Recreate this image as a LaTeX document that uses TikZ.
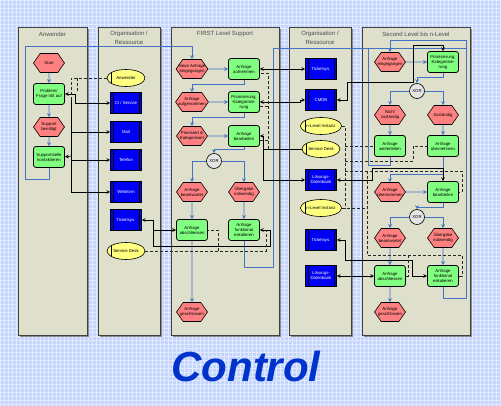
\documentclass[tikz,border=0pt]{standalone}
\usepackage{fontspec}
\setmainfont{Liberation Sans}
\usetikzlibrary{shapes.geometric,shapes.symbols,arrows}

\definecolor{bgblue}{RGB}{196,212,250}
\definecolor{gridblue}{RGB}{226,234,255}
\definecolor{lanecol}{RGB}{222,224,204}
\definecolor{evtred}{RGB}{255,128,128}
\definecolor{fktgreen}{RGB}{128,255,128}
\definecolor{sysblue}{RGB}{0,0,245}
\definecolor{orgyellow}{RGB}{255,255,128}
\definecolor{flowblue}{RGB}{68,114,196}
\definecolor{titleblue}{RGB}{0,51,204}

\tikzset{
  lane/.style={draw=black!75, line width=1pt, fill=lanecol},
  lanetitle/.style={text=black!70, align=center, font=\fontsize{6}{8.5}\selectfont},
  evt/.style={signal, signal to=east and west, signal pointer angle=110, draw, fill=evtred,
    line width=0.6pt, minimum width=31pt, minimum height=19pt, inner xsep=-4pt, inner ysep=1pt,
    align=center, font=\fontsize{4.3}{5}\selectfont},
  fkt/.style={rectangle, rounded corners=2.5pt, draw, fill=fktgreen, line width=0.8pt,
    minimum width=31pt, minimum height=21pt, inner sep=0.5pt, align=center,
    font=\fontsize{4.3}{5}\selectfont},
  sys/.style={rectangle, draw, fill=sysblue, text=white, line width=0.6pt,
    minimum width=31pt, minimum height=21pt, inner sep=0.5pt, align=center,
    font=\fontsize{4.3}{5}\selectfont,
    path picture={\draw[black, line width=0.6pt]
      ([xshift=2.5pt]path picture bounding box.south west) -- ([xshift=2.5pt]path picture bounding box.north west)
      ([xshift=-2.5pt]path picture bounding box.south east) -- ([xshift=-2.5pt]path picture bounding box.north east);}},
  org/.style={ellipse, draw, fill=orgyellow, line width=0.6pt, minimum width=38pt,
    minimum height=17pt, inner sep=0pt, align=center, font=\fontsize{4.3}{5}\selectfont,
    path picture={\draw ([xshift=4.5pt]path picture bounding box.south west) -- ([xshift=4.5pt]path picture bounding box.north west);}},
  xorc/.style={circle, draw, fill=black!10, line width=0.6pt, minimum size=15pt, inner sep=0pt,
    font=\fontsize{4.3}{5}\selectfont},
  flow/.style={->, draw=flowblue, line width=0.8pt},
  info/.style={draw=black, line width=0.7pt},
  resp/.style={draw=black!85, line width=0.9pt, dash pattern=on 3pt off 2pt}
}

\begin{document}
\begin{tikzpicture}[x=1pt,y=-1pt,>=stealth]
\useasboundingbox (0,0) rectangle (501,406);
\fill[bgblue] (0,0) rectangle (501,406);
\draw[gridblue,line width=0.7pt,step=4pt] (0pt,0pt) grid (501pt,-406pt);

% lanes
\foreach \xa/\xb in {18/87,98/160,171/279,289/351,362/470}
{
    \fill[black!45] (\xa+1.5,29.5) rectangle (\xb+1.5,336.5);
    \draw[lane] (\xa,28) rectangle (\xb,335);
}
\node[lanetitle] (t1) at (52.5,34) {Anwender};
\node[lanetitle] (t2) at (129,38) {Organisation /\\Ressource};
\node[lanetitle] (t3) at (225,34) {FIRST Level Support};
\node[lanetitle] (t4) at (320,38) {Organisation /\\Ressource};
\node[lanetitle] (t5) at (416,34) {Second Level bis n-Level};

% Anwender
\node[evt] (start) at (49,63) {Start};
\node[fkt] (problem) at (49,94) {Problem/\\Frage tritt auf};
\node[evt] (supbenoetigt) at (49,127) {Support\\benötigt};
\node[fkt] (supkontakt) at (49,157) {Supportstelle\\kontaktieren};

% Organisation / Ressource
\node[org] (anw) at (126,78) {Anwender};
\node[sys] (ciserv) at (126,103) {CI / Service};
\node[sys] (mail) at (126,132) {Mail};
\node[sys] (telefon) at (126,160) {Telefon};
\node[sys] (webform) at (126,192) {Webform};
\node[sys] (tick1) at (126,220) {Ticketsys.};
\node[org] (sdesk1) at (126,251) {Service Desk};

% FIRST Level Support
\node[evt] (neueanf) at (192,69) {Neue Anfrage\\eingegangen};
\node[fkt] (aufnehmen) at (244,69) {Anfrage\\aufnehmen};
\node[evt] (aufgen) at (192,102) {Anfrage\\aufgenommen};
\node[fkt] (prio1) at (244,102) {Priorisierung,\\Kategorisie-\\rung};
\node[evt] (prios) at (192,136) {Priorisiert \&\\Kategorisiert};
\node[fkt] (bearb1) at (244,136) {Anfrage\\bearbeiten};
\node[xorc] (xor1) at (214,161) {XOR};
\node[evt] (beantw1) at (192,192) {Anfrage\\beantwortet};
\node[evt] (uebergabe1) at (244,192) {Übergabe\\notwendig};
\node[fkt] (absch1) at (192,230) {Anfrage\\abschliessen};
\node[fkt] (eskal1) at (244,230) {Anfrage\\funktional\\eskalieren};
\node[evt] (geschl1) at (192,312) {Anfrage\\geschlossen};

% Organisation / Ressource
\node[sys] (tick2) at (321,69) {Ticketsys.};
\node[sys] (cmdb) at (321,100) {CMDB};
\node[org] (nlevel1) at (321,126) {n-Level Instanz};
\node[org] (sdesk2) at (321,149) {Service Desk};
\node[sys] (loesdb1) at (321,180) {Lösungs-\\Datenbank};
\node[org] (nlevel2) at (321,208) {n-Level Instanz};
\node[sys] (tick3) at (321,240) {Ticketsys.};
\node[sys] (loesdb2) at (321,276) {Lösungs-\\Datenbank};

% Second Level bis n-Level
\node[evt] (eing2) at (390,62) {Anfrage\\eingegangen};
\node[fkt] (prio2) at (443,62) {Priorisierung,\\Kategorisie-\\rung};
\node[xorc] (xor2) at (417,91) {XOR};
\node[evt] (nichtz) at (390,115) {Nicht\\zuständig};
\node[evt] (zust) at (443,115) {Zuständig};
\node[fkt] (weiter) at (390,146) {Anfrage\\weiterleiten};
\node[fkt] (uebern) at (443,146) {Anfrage\\übernehmen};
\node[evt] (uebernommen) at (390,192) {Anfrage\\übernommen};
\node[fkt] (bearb2) at (443,192) {Anfrage\\bearbeiten};
\node[xorc] (xor3) at (417,217) {XOR};
\node[evt] (beantw2) at (390,238) {Anfrage\\beantwortet};
\node[evt] (uebergabe2) at (443,238) {Übergabe\\notwendig};
\node[fkt] (absch2) at (390,276) {Anfrage\\abschliessen};
\node[fkt] (eskal2) at (443,276) {Anfrage\\funktional\\eskalieren};
\node[evt] (geschl2) at (390,312) {Anfrage\\geschlossen};

% control flow
\draw[flow] (start) -- (problem);
\draw[flow] (problem) -- (supbenoetigt);
\draw[flow] (supbenoetigt) -- (supkontakt);
\draw[flow] (supkontakt.south) -- (49,179) -- (25,179) -- (25,46) -| (neueanf.north);
\draw[flow] (neueanf) -- (aufnehmen);
\draw[flow] (aufnehmen.south) -- ++(0,5) -| (aufgen.north);
\draw[flow] (aufgen) -- (prio1);
\draw[flow] (prio1.south) -- ++(0,5) -| (prios.north);
\draw[flow] (prios) -- (bearb1);
\draw[flow] (bearb1.south) -- ++(0,3) -| (xor1.north);
\draw[flow] (xor1.west) -| (beantw1.north);
\draw[flow] (xor1.east) -| (uebergabe1.north);
\draw[flow] (beantw1) -- (absch1);
\draw[flow] (uebergabe1) -- (eskal1);
\draw[flow] (absch1) -- (geschl1);
\draw[flow,-] (eskal1.south) -- (244,267) -- (273,267) -- (273,48) -- (466,48);
\draw[flow,-] (weiter.south) -- (390,165) -- (368,165) -- (368,48);
\draw[flow] (eskal2.south) -- (443,298) -- (466,298) -- (466,40) -| (eing2.north);
\draw[flow] (eing2) -- (prio2);
\draw[flow] (prio2.south) -- ++(0,5) -| (xor2.north);
\draw[flow] (xor2.west) -| (nichtz.north);
\draw[flow] (xor2.east) -| (zust.north);
\draw[flow] (nichtz) -- (weiter);
\draw[flow] (zust) -- (uebern);
\draw[flow] (uebern.south) -- ++(0,18) -| (uebernommen.north);
\draw[flow] (uebernommen) -- (bearb2);
\draw[flow] (bearb2.south) -- ++(0,5) -| (xor3.north);
\draw[flow] (xor3.west) -| (beantw2.north);
\draw[flow] (xor3.east) -| (uebergabe2.north);
\draw[flow] (beantw2) -- (absch2);
\draw[flow] (uebergabe2) -- (eskal2);
\draw[flow] (absch2) -- (geschl2);

% information
\draw[info,<->] (problem.east) -- (75,94) -- (75,103) -- (ciserv.west);
\draw[info,->] (71,100) |- (webform.west);
\draw[info,->] (71,132) -- (mail.west);
\draw[info,->] (71,160) -- (telefon.west);
\draw[info,->] (71,156) -- (supkontakt.east);
\draw[info,<->] (tick1.east) -- (153,220) -- (153,246) -- (270,246) |- (eskal1.east);
\draw[info,->] (153,230) -- (absch1.west);
\draw[info,<->] (aufnehmen.east) -- (tick2.west);
\draw[info,<->] (prio1.east) -- (300,102) -- (300,100) -- (cmdb.west);
\draw[info,<->] (bearb1.east) -- (263,136) |- (loesdb1.west);
\draw[info] (263,149) -- (sdesk2.west);
\draw[info,<->] (cmdb.east) -- (347,100) -- (347,82) -- (413,82) -- (413,45) -| (prio2.north);
\draw[info,<->] (loesdb1.east) -- (372,180) -- (372,168) -| (bearb2.north);
\draw[info,<->] (tick3.east) -- (345,240) -- (345,260) -- (412,260) |- (eskal2.west);
\draw[info,<->] (loesdb2.east) -- (absch2.west);

% responsibility
\draw[resp] (anw.west) -- (71,78) -- (71,100);
\draw[resp] (77,78) -- (77,91);
\draw[resp] (sdesk1.east) -- (266,251) -- (266,230);
\draw[resp] (218,251) |- (absch1.east);
\draw[resp] (268,149) -- (268,73) -- ([yshift=-4pt]aufnehmen.east);
\draw[resp] (268,106) -- ([yshift=-4pt]prio1.east);
\draw[resp] (268,140) -- ([yshift=-4pt]bearb1.east);
\draw[resp] (nlevel1.east) -- (345,126) -- (345,208);
\draw[resp] (345,146) -- (weiter.west);
\draw[resp] (345,161) -- (413,161) |- (uebern.west);
\draw[resp] (345,171) -- (462,171) |- (bearb2.east);
\draw[resp] (nlevel2.east) -- (367,208);
\draw[resp] (367,171) -- (367,255) -- (462,255) |- (eskal2.east);
\draw[resp] (408,255) |- (absch2.east);

\node[font=\fontsize{42}{42}\selectfont\bfseries\itshape, text=titleblue] (ctrl) at (246,366) {Control};

\end{tikzpicture}
\end{document}
